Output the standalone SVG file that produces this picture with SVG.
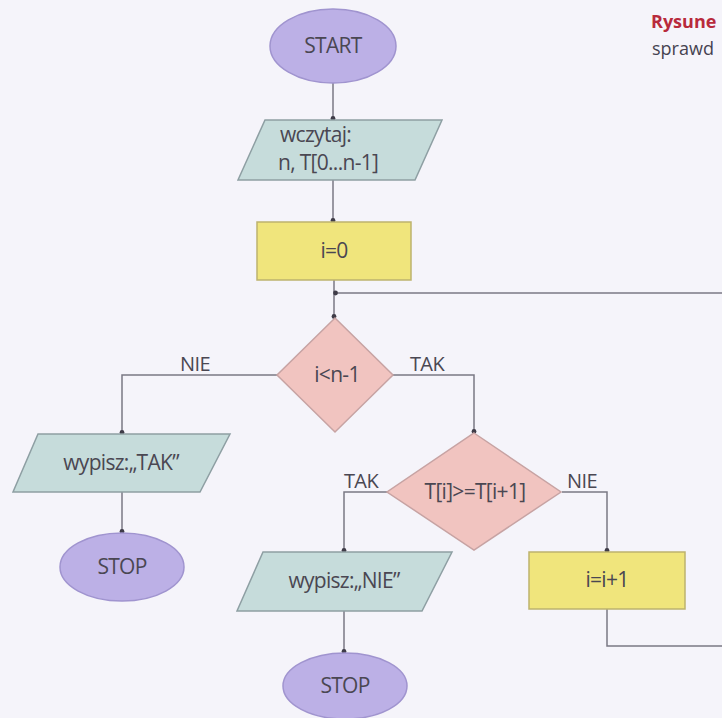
<svg xmlns="http://www.w3.org/2000/svg" width="722" height="718" viewBox="0 0 722 718">
<defs>
<marker id="dot" viewBox="0 0 6 6" refX="4.5" refY="3" markerWidth="6" markerHeight="6" markerUnits="userSpaceOnUse" orient="auto">
<circle cx="3" cy="3" r="2.4" fill="#3f3c48"/>
</marker>
</defs>
<style>
.term{fill:#bcb0e6;stroke:#a094cf;stroke-width:1.5}
.io{fill:#c6dcdb;stroke:#8e9fa3;stroke-width:1.5}
.proc{fill:#f0e57c;stroke:#bdb26e;stroke-width:1.5}
.dec{fill:#f1c4c0;stroke:#c7a3a3;stroke-width:1.5}
.t{font-family:"Open Sans","Noto Sans",sans-serif;font-size:21px;fill:#4a4752;text-anchor:middle;letter-spacing:-0.7px}
.s{text-anchor:start}
.lbl{font-family:"Open Sans","Noto Sans",sans-serif;font-size:20px;fill:#4a4752;text-anchor:middle;letter-spacing:-0.6px}
.c{fill:none;stroke:#7a7884;stroke-width:1.5}
</style>
<rect x="0" y="0" width="722" height="718" fill="#f5f4fa"/>
<text x="651" y="28" font-family="'Open Sans','Noto Sans',sans-serif" font-size="18" font-weight="bold" fill="#b82a3c">Rysune</text>
<text x="652" y="55" font-family="'Open Sans','Noto Sans',sans-serif" font-size="18" fill="#454250">sprawd</text>
<g id="connectors">
<path class="c" d="M333,83 V120" marker-end="url(#dot)"/>
<path class="c" d="M333,180 V222" marker-end="url(#dot)"/>
<path class="c" d="M334,280 V318" marker-end="url(#dot)"/>
<path class="c" d="M722,293 H334" marker-end="url(#dot)"/>
<path class="c" d="M277,375 H122 V434" marker-end="url(#dot)"/>
<path class="c" d="M393,375 H474 V433" marker-end="url(#dot)"/>
<path class="c" d="M387,492 H344 V552" marker-end="url(#dot)"/>
<path class="c" d="M562,492 H607 V552" marker-end="url(#dot)"/>
<path class="c" d="M122,492 V533" marker-end="url(#dot)"/>
<path class="c" d="M344,611 V653" marker-end="url(#dot)"/>
<path class="c" d="M607,609 V646 H722"/>
<text class="lbl" x="195" y="371">NIE</text>
<text class="lbl" x="427" y="371">TAK</text>
<text class="lbl" x="361" y="488">TAK</text>
<text class="lbl" x="582" y="488">NIE</text>
</g>
<g id="start">
<ellipse class="term" cx="333" cy="46" rx="63" ry="37"/>
<text class="t" x="333" y="53">START</text>
</g>
<g id="read">
<polygon class="io" points="265,120 442,120 415,180 238,180"/>
<text class="t s" x="280" y="142">wczytaj:</text>
<text class="t s" x="278" y="170">n, T[0...n-1]</text>
</g>
<g id="init">
<rect class="proc" x="257" y="222" width="154" height="58"/>
<text class="t" x="334" y="258">i=0</text>
</g>
<g id="cond1">
<polygon class="dec" points="335,318 393,375 335,432 277,375"/>
<text class="t" x="337" y="382">i&lt;n-1</text>
</g>
<g id="outTak">
<polygon class="io" points="38,434 230,434 200,492 13,492"/>
<text class="t" x="121" y="470">wypisz:„TAK”</text>
</g>
<g id="stop1">
<ellipse class="term" cx="122" cy="567" rx="62" ry="34"/>
<text class="t" x="122" y="574">STOP</text>
</g>
<g id="cond2">
<polygon class="dec" points="474,433 561,492 474,550 387,492"/>
<text class="t" x="475" y="499">T[i]&gt;=T[i+1]</text>
</g>
<g id="outNie">
<polygon class="io" points="263,552 452,552 422,611 237,611"/>
<text class="t" x="344" y="588">wypisz:„NIE”</text>
</g>
<g id="inc">
<rect class="proc" x="529" y="552" width="156" height="57"/>
<text class="t" x="607" y="587">i=i+1</text>
</g>
<g id="stop2">
<ellipse class="term" cx="345" cy="686" rx="62" ry="33"/>
<text class="t" x="345" y="693">STOP</text>
</g>
</svg>
